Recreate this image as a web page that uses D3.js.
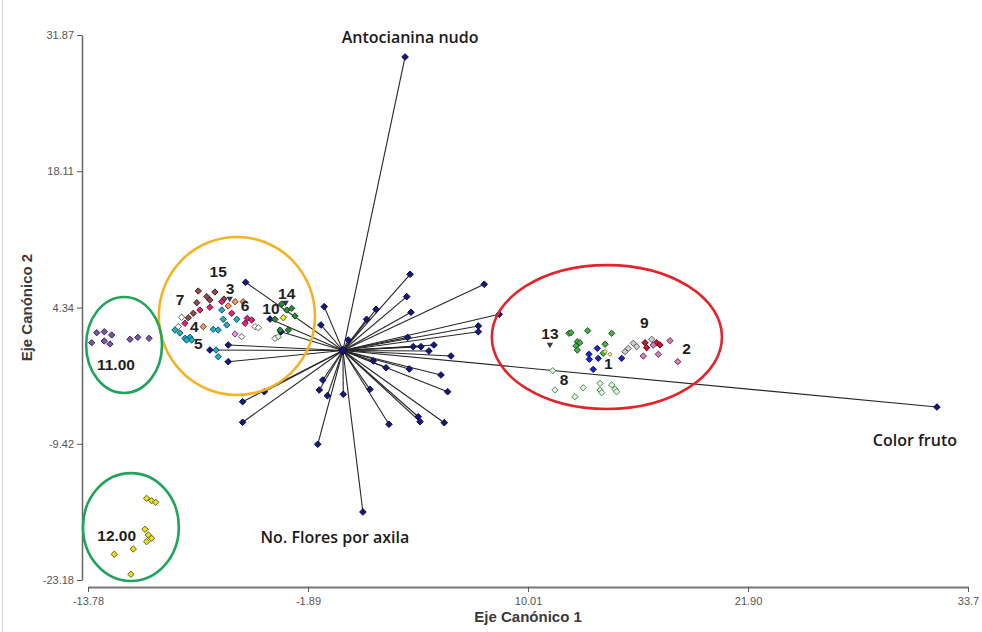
<!DOCTYPE html>
<html>
<head>
<meta charset="utf-8">
<script src="https://cdn.jsdelivr.net/npm/d3@7"></script>
<style>
body { margin: 0; background: #fff; }
</style>
</head>
<body>
<div id="chart"></div>
<script>
// axis ticks as printed on the chart
var xTicks = [-13.78, -1.89, 10.01, 21.90, 33.79];
var xTickLabels = ["-13.78", "-1.89", "10.01", "21.90", "33.7"];
var yTicks = [31.87, 18.11, 4.34, -9.42, -23.18];
var yTickLabels = ["31.87", "18.11", "4.34", "-9.42", "-23.18"];

// variable vectors (end points, canonical scores)
var vectorEnds = [
    [3.36, 29.65], [32.11, -5.71], [1.08, -16.31],
    [-5.26, 6.89], [-1.01, 4.43], [-1.19, 2.58], [3.63, 7.70], [7.64, 6.69],
    [3.45, 5.44], [1.79, 4.16], [1.28, 3.15], [3.68, 3.86], [8.45, 3.66],
    [7.32, 2.48], [7.32, 1.90], [3.50, 1.33], [4.92, 0.56], [4.22, 0.39],
    [3.80, 0.39], [4.65, -0.05], [5.84, -0.55], [0.29, 1.06], [1.64, -1.06],
    [2.33, -1.74], [3.59, -1.87], [5.30, -2.47], [5.66, -4.16], [4.07, -6.69],
    [4.17, -7.19], [5.48, -7.29], [2.49, -7.45], [1.46, -3.92], [0.02, -4.42],
    [-0.84, -4.56], [-1.28, -3.99], [-1.09, -2.98], [-1.36, -9.47], [-4.25, -4.16],
    [-5.42, -5.17], [-5.42, -7.25], [-3.35, 1.90], [-6.20, 0.56], [-6.20, -1.13],
    [-7.19, 0.05], [-3.94, 3.18]
];
var vectorNames = ["Antocianina nudo", "Color fruto", "No. Flores por axila"];
var vectorNamePos = [[3.63, 31.67], [30.92, -9.04], [-0.43, -18.84]];

// group scores
var g11 = [[-13.31, 1.80], [-12.90, 1.90], [-12.50, 1.57], [-13.58, 0.79], [-12.90, 0.96],
    [-12.59, 0.66], [-11.51, 1.13], [-11.09, 1.33], [-10.48, 1.23]];
var g12 = [[-10.61, -14.93], [-10.34, -15.17], [-10.12, -15.33], [-10.70, -18.06], [-10.52, -18.64],
    [-10.34, -18.97], [-10.61, -19.31], [-11.33, -20.05], [-12.36, -20.58], [-11.46, -22.60]];
var gBrown = [[-7.82, 6.01], [-7.90, 4.83], [-7.36, 5.44], [-7.19, 5.10], [-8.36, 3.31],
    [-8.09, 3.76], [-6.92, 5.91], [-6.43, 5.20]];
var gMagenta = [[-8.54, 2.75], [-7.73, 4.09], [-7.19, 4.37], [-6.55, 4.93], [-6.01, 3.76],
    [-5.17, 3.25], [-4.93, 3.08], [-5.29, 2.75]];
var gTeal = [[-9.08, 2.07], [-8.54, 1.23], [-8.27, 1.33], [-8.18, 1.06], [-7.01, 2.14],
    [-6.74, 2.07], [-6.55, 4.09], [-6.47, 3.15], [-6.28, 2.58], [-5.74, 3.15],
    [-8.45, 1.06], [-6.74, -0.63], [-6.86, 0.05], [-8.81, 1.77]];
var gOrange = [[-7.55, 2.41], [-6.20, 4.50], [-5.83, 4.93], [-5.39, 4.93]];
var gWhite = [[-8.72, 3.35], [-8.90, 2.41], [-4.75, 2.41], [-5.47, 1.40], [-4.57, 2.30], [-3.67, 1.23]];
var gLilac = [[-5.83, 1.67]];
var gGreen14 = [[-3.31, 4.70], [-3.04, 4.09], [-2.77, 4.26], [-2.59, 3.49], [-3.67, 3.15],
    [-3.40, 2.07], [-2.95, 2.07]];
var gPaleGreen14 = [[-3.49, 1.40]];
var gYellow14 = [[-3.22, 3.31]];
var gGreen13 = [[12.22, 1.74], [12.33, 1.80], [13.23, 2.00], [14.53, 1.74], [12.67, 0.89],
    [12.81, 0.79], [12.60, 0.46], [12.67, 0.05], [14.17, 0.63], [14.07, -0.28]];
var gBlue1 = [[13.75, 0.22], [13.30, -0.38], [13.32, -0.89], [13.80, -0.79], [13.53, -1.90], [15.07, -0.79]];
var gGray9 = [[15.25, -0.12], [15.43, 0.22], [15.70, 0.73], [15.88, 0.39], [16.69, 1.13]];
var gRed9 = [[16.33, 0.79], [16.42, 0.28], [16.96, 0.79], [17.14, 0.56]];
var gPink2 = [[16.78, 0.56], [17.68, 0.99], [16.24, -0.56], [17.05, -0.38], [18.10, -1.13]];
var gPale8 = [[11.34, -2.04], [11.46, -3.99], [12.54, -4.67], [12.99, -3.76], [13.90, -3.31],
    [13.90, -3.99], [13.99, -4.26], [14.53, -3.48], [14.71, -3.92], [14.80, -4.16]];
var gYellow1 = [[14.17, -0.12], [14.44, -0.38]];
// small triangle marks next to some group numbers
var triMarks = [[-6.12, 5.25], [-3.10, 4.85], [11.19, 0.60]];

// group labels
var groupLabels = ["13", "9", "2", "1", "8", "15", "3", "7", "6", "10", "14", "4", "5", "11.00", "12.00"];
var groupLabelPos = [[11.19, 1.74], [16.29, 2.81], [18.58, 0.22], [14.34, -1.29], [11.95, -2.98],
    [-6.74, 7.96], [-6.10, 6.28], [-8.81, 5.10], [-5.29, 4.50], [-3.89, 4.26], [-3.04, 5.78],
    [-8.03, 2.41], [-7.82, 0.73], [-12.27, -1.46], [-12.23, -18.74]];

// hand drawn ellipses: center x, center y, radius x, radius y
var ellipses = [
    [-5.73, 3.49, 4.22, 7.98],
    [14.27, 1.36, 6.22, 7.27],
    [-11.83, 0.56, 2.05, 4.85],
    [-11.46, -17.83, 2.59, 5.45]
];
var ellipseColors = ["#f2b324", "#e3242b", "#21a35a", "#21a35a"];

var width = 982, height = 632;

var svg = d3.select("#chart")
    .append("svg")
    .attr("width", width)
    .attr("height", height)
    .style("font-family", "'Liberation Sans', Arial, sans-serif");

svg.append("line")
    .attr("x1", 2.5).attr("x2", 2.5)
    .attr("y1", 0).attr("y2", height)
    .attr("stroke", "#d6d6d6");

var x = d3.scaleLinear().domain([-13.78, 33.79]).range([88, 968]);
var y = d3.scaleLinear().domain([-23.18, 31.87]).range([580, 35]);

// axes
var xAxis = svg.append("g")
    .attr("transform", "translate(0,587)")
    .call(d3.axisBottom(x).tickValues(xTicks)
        .tickFormat(function(d, i) { return xTickLabels[i]; })
        .tickSize(5).tickSizeOuter(0));
xAxis.select(".domain").attr("stroke", "#777").attr("stroke-width", 2);
xAxis.selectAll(".tick line").attr("stroke", "#555");
xAxis.selectAll("text").attr("fill", "#555").attr("font-size", 11).attr("dy", "0.9em");

var yAxis = svg.append("g")
    .attr("transform", "translate(82,0)")
    .call(d3.axisLeft(y).tickValues(yTicks)
        .tickFormat(function(d, i) { return yTickLabels[i]; })
        .tickSize(5).tickSizeOuter(0));
yAxis.select(".domain").attr("stroke", "#666").attr("stroke-width", 1.5);
yAxis.selectAll(".tick line").attr("stroke", "#555");
yAxis.selectAll("text").attr("fill", "#555").attr("font-size", 11);

svg.append("text")
    .attr("x", x(10.01)).attr("y", 622)
    .attr("text-anchor", "middle")
    .attr("font-size", 15).attr("font-weight", "bold").attr("fill", "#3a3a3a")
    .text("Eje Canónico 1");

svg.append("text")
    .attr("transform", "translate(32," + y(4.34) + ") rotate(-90)")
    .attr("text-anchor", "middle")
    .attr("font-size", 15).attr("font-weight", "bold").attr("fill", "#3a3a3a")
    .text("Eje Canónico 2");

// vectors from the origin
svg.append("g").selectAll("line")
    .data(vectorEnds)
    .enter().append("line")
    .attr("x1", x(0)).attr("y1", y(0))
    .attr("x2", function(d) { return x(d[0]); })
    .attr("y2", function(d) { return y(d[1]); })
    .attr("stroke", "#262626")
    .attr("stroke-width", 1.1);

// diamonds = squares turned 45 degrees
var square = d3.symbol().type(d3.symbolSquare);

var drawPoints = function(pts, fill, stroke, size) {
    svg.append("g").selectAll("path")
        .data(pts)
        .enter().append("path")
        .attr("d", square.size(size)())
        .attr("transform", function(d) {
            return "translate(" + x(d[0]) + "," + y(d[1]) + ") rotate(45)";
        })
        .attr("fill", fill)
        .attr("stroke", stroke)
        .attr("stroke-width", 0.9);
};

drawPoints(vectorEnds, "#17177c", "#08083a", 22);
drawPoints([[0, 0]], "#17177c", "#08083a", 36);

drawPoints(g11, "#7d55a8", "#2c1f45", 20);
drawPoints(g12, "#ece21a", "#5a5410", 20);
drawPoints(gBrown, "#8f4b4b", "#3a1e1e", 20);
drawPoints(gMagenta, "#e0237a", "#5a1030", 20);
drawPoints(gTeal, "#1fb0c6", "#0d4a55", 20);
drawPoints(gOrange, "#f3935e", "#6a3a20", 20);
drawPoints(gWhite, "#ffffff", "#555", 20);
drawPoints(gLilac, "#ea8fe6", "#6a3a6a", 20);
drawPoints(gGreen14, "#2a8c35", "#123a16", 20);
drawPoints(gPaleGreen14, "#d8ecd8", "#3a7a3a", 20);
drawPoints(gYellow14, "#f4f020", "#555010", 20);
drawPoints(gGreen13, "#46b046", "#1c4a1c", 20);
drawPoints(gBlue1, "#1b20d0", "#0a0a50", 20);
drawPoints(gGray9, "#cfcfcf", "#555", 20);
drawPoints(gRed9, "#d4112a", "#500810", 20);
drawPoints(gPink2, "#d77fbc", "#5a2a4a", 20);
drawPoints(gPale8, "#e4f2e4", "#3b8a4b", 20);
drawPoints(gYellow1, "#f6f08a", "#8a8440", 9);

svg.append("g").selectAll("path")
    .data(triMarks)
    .enter().append("path")
    .attr("d", d3.symbol().type(d3.symbolTriangle).size(18)())
    .attr("transform", function(d) {
        return "translate(" + x(d[0]) + "," + y(d[1]) + ") rotate(180)";
    })
    .attr("fill", "#333a55");

// ellipses
svg.append("g").selectAll("ellipse")
    .data(ellipses)
    .enter().append("ellipse")
    .attr("cx", function(d) { return x(d[0]); })
    .attr("cy", function(d) { return y(d[1]); })
    .attr("rx", function(d) { return x(d[0] + d[2]) - x(d[0]); })
    .attr("ry", function(d) { return y(d[1] - d[3]) - y(d[1]); })
    .attr("fill", "none")
    .attr("stroke", function(d, i) { return ellipseColors[i]; })
    .attr("stroke-width", 2.6);

// group labels
svg.append("g").selectAll("text")
    .data(groupLabels)
    .enter().append("text")
    .attr("x", function(d, i) { return x(groupLabelPos[i][0]); })
    .attr("y", function(d, i) { return y(groupLabelPos[i][1]); })
    .attr("dy", "0.35em")
    .attr("text-anchor", "middle")
    .attr("font-size", 15.5).attr("font-weight", "bold").attr("fill", "#1e1e1e")
    .text(function(d) { return d; });

// names of the long vectors
svg.append("g").selectAll("text")
    .data(vectorNames)
    .enter().append("text")
    .attr("x", function(d, i) { return x(vectorNamePos[i][0]); })
    .attr("y", function(d, i) { return y(vectorNamePos[i][1]); })
    .attr("dy", "0.35em")
    .attr("text-anchor", "middle")
    .attr("font-family", "'Open Sans', sans-serif")
    .attr("font-size", 16).attr("font-weight", 600).attr("fill", "#1a1a1a")
    .text(function(d) { return d; });
</script>
</body>
</html>
